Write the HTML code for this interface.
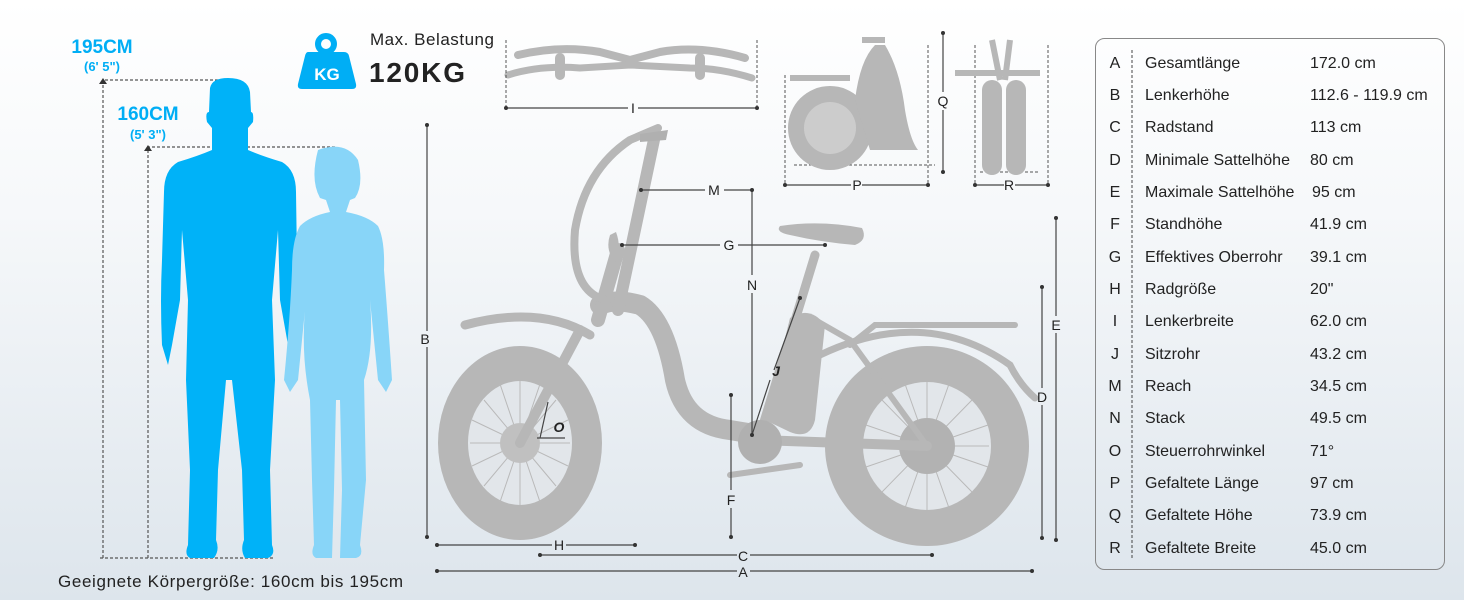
<!DOCTYPE html>
<html><head><meta charset="utf-8"><style>
html,body{margin:0;padding:0}
body{width:1464px;height:600px;overflow:hidden;background:linear-gradient(#ffffff 0%,#f6f8fa 35%,#dde5ec 100%);font-family:"Liberation Sans",sans-serif}
svg{position:absolute;left:0;top:0}
</style></head><body>
<svg width="1464" height="600" viewBox="0 0 1464 600" xmlns="http://www.w3.org/2000/svg" font-family="Liberation Sans, sans-serif">
<g fill="#00aef5" font-weight="bold" text-anchor="middle">
<text x="102" y="53" font-size="19">195CM</text>
<text x="102" y="71" font-size="13">(6' 5")</text>
<text x="148" y="120" font-size="19">160CM</text>
<text x="148" y="139" font-size="13">(5' 3")</text>
</g>
<g stroke="#555" stroke-width="1.2" stroke-dasharray="3,2" fill="none">
<path d="M103 558 V80 H235"/>
<path d="M148 558 V147 H335"/>
<path d="M100 558 H275"/>
</g>
<path d="M99 84 L103 78 L107 84Z M144 151 L148 145 L152 151Z" fill="#333"/>
<g fill="#00b2f8">
<path d="M210 88 Q212 78 228 78 Q248 78 250 92 L251 112 Q254 112 253 122 L248 128 L248 150 Q262 156 282 162 Q296 170 296 192 L297 260 Q299 300 297 345 L292 365 L288 345 L280 300 L278 230 L272 300 L275 380 L270 470 L272 545 Q276 555 268 558 L245 558 Q240 550 244 540 L242 470 L232 380 L226 380 L218 470 L216 540 Q220 550 214 558 L190 558 Q184 555 188 545 L190 470 L186 380 L188 300 L182 230 L180 300 L172 345 L168 365 L162 345 Q160 300 162 260 L164 192 Q164 170 178 162 Q198 156 212 150 L212 128 L207 122 Q205 112 209 112Z"/>
</g>
<g fill="#88d5f8">
<path d="M318 150 Q345 140 358 160 Q364 185 355 198 L350 200 L346 212 Q368 216 378 226 Q385 240 384 270 Q388 320 392 380 L386 392 L378 380 L372 320 L370 300 Q374 350 364 380 L366 480 L360 545 Q364 556 356 558 L340 558 L342 490 L340 400 L336 400 L334 490 L332 558 L316 558 Q310 555 314 545 L312 480 L310 400 Q300 350 306 300 L304 320 L298 380 L290 392 L284 380 Q290 320 292 270 Q292 240 300 226 Q310 216 330 212 L326 200 L320 198 Q310 180 318 150Z"/>
</g>
<text x="58" y="587" font-size="17" fill="#222" textLength="345">Geeignete Körpergröße: 160cm bis 195cm</text>
<circle cx="326" cy="44" r="8" fill="none" stroke="#00aef5" stroke-width="6"/>
<path d="M308 52 H344 Q348 52 349 56 L356 84 Q357 89 352 89 H302 Q297 89 298 84 L305 56 Q306 52 308 52Z" fill="#00aef5"/>
<text x="327" y="80" font-size="17" font-weight="bold" fill="#fff" text-anchor="middle">KG</text>
<text x="370" y="45" font-size="17" fill="#222" textLength="124">Max. Belastung</text>
<text x="369" y="82" font-size="28" font-weight="bold" fill="#222" textLength="96">120KG</text>

<g fill="#b7b7b7">
<ellipse cx="520" cy="443" rx="82" ry="97"/>
<ellipse cx="927" cy="446" rx="102" ry="100"/>
</g>
<g fill="#e2e6ea">
<ellipse cx="520" cy="443" rx="52" ry="62"/>
<ellipse cx="927" cy="446" rx="64" ry="64"/>
</g>
<g stroke="#b9b9b9" stroke-width="1" fill="none">
<path d="M470 443 H570 M520 381 V505 M484 400 L556 486 M556 400 L484 486 M472 420 L568 466 M472 466 L568 420 M500 384 L540 502 M540 384 L500 502"/>
<path d="M865 446 H989 M927 382 V510 M882 400 L972 492 M972 400 L882 492 M866 425 L988 467 M866 467 L988 425 M905 384 L949 508 M949 384 L905 508"/>
</g>
<circle cx="520" cy="443" r="20" fill="#c0c0c0"/>
<circle cx="927" cy="446" r="28" fill="#b2b2b2"/>
<g stroke="#b7b7b7" fill="none" stroke-linecap="round">
<path d="M600 305 Q615 298 640 305 Q665 320 675 380 Q685 425 730 430 L760 435" stroke-width="20"/>
<path d="M618 310 L655 135" stroke-width="12"/>
<path d="M598 320 L618 250" stroke-width="14"/>
<path d="M605 300 Q570 290 575 230 Q585 170 630 140 L658 128" stroke-width="8"/>
<path d="M520 443 L580 330" stroke-width="10"/>
<path d="M760 435 L815 255" stroke-width="9"/>
<path d="M760 440 L927 446" stroke-width="10"/>
<path d="M815 320 L850 340 L927 446" stroke-width="6"/>
<path d="M850 345 L875 325 H1015" stroke-width="6"/>
<path d="M465 325 Q540 305 590 335" stroke-width="9"/>
<path d="M820 355 Q925 305 1010 365 Q1020 385 1035 398" stroke-width="7"/>
<path d="M730 475 L800 465" stroke-width="6"/>
</g>
<path d="M790 318 Q810 305 825 325 L815 420 Q810 440 790 432 L765 420Z" fill="#b7b7b7"/>
<path d="M780 226 Q820 220 862 228 Q868 240 855 245 Q820 242 790 235 Q775 232 780 226Z" fill="#b7b7b7"/>
<ellipse cx="760" cy="442" rx="22" ry="22" fill="#b0b0b0"/>
<path d="M640 134 L668 130 L666 140 L640 142Z" fill="#b0b0b0"/>
<path d="M610 235 Q605 250 615 262 Q622 248 616 232Z" fill="#b7b7b7"/>
<g stroke="#b7b7b7" fill="none" stroke-linecap="round">
<path d="M518 55 Q560 45 600 52 L630 60 L660 52 Q700 45 745 58" stroke-width="8"/>
<path d="M508 75 Q540 65 580 68 L630 65 L690 68 Q720 68 752 78" stroke-width="7"/>
<path d="M560 58 V75 M700 58 V75" stroke-width="10"/>
</g>
<g stroke="#555" stroke-width="1" stroke-dasharray="3,2" fill="none">
<path d="M506 40 V108 M757 40 V108"/>
<path d="M785 75 V185 M928 45 V185 M794 165 H935"/>
<path d="M975 45 V185 M1048 45 V185 M980 172 H1040"/>
</g>
<ellipse cx="830" cy="128" rx="42" ry="42" fill="#b7b7b7"/>
<ellipse cx="830" cy="128" rx="26" ry="26" fill="#ccc"/>
<path d="M855 100 Q860 60 875 45 L885 45 Q900 70 905 110 Q910 140 918 150 L870 150Z" fill="#b7b7b7"/>
<path d="M790 78 H850 M862 40 L885 40" stroke="#b7b7b7" stroke-width="6"/>
<rect x="982" y="80" width="20" height="95" rx="10" fill="#b7b7b7"/>
<rect x="1006" y="80" width="20" height="95" rx="10" fill="#b7b7b7"/>
<path d="M992 40 L1000 80 M1010 40 L1005 80 M955 73 H1040" stroke="#b7b7b7" stroke-width="6"/>

<g stroke="#444" stroke-width="1.2" fill="none">
<path d="M506 108 H628 M638 108 H757"/>
<path d="M785 185 H851 M862 185 H928"/>
<path d="M975 185 H1004 M1015 185 H1048"/>
<path d="M943 33 V92 M943 110 V172"/>
<path d="M427 125 V331 M427 347 V537"/>
<path d="M437 545 H552 M566 545 H635"/>
<path d="M540 555 H737 M750 555 H932"/>
<path d="M437 571 H737 M750 571 H1032"/>
<path d="M1056 218 V316 M1056 333 V540"/>
<path d="M1042 287 V388 M1042 405 V538"/>
<path d="M731 395 V490 M731 508 V537"/>
<path d="M752 190 V275 M752 293 V435"/>
<path d="M641 190 H705 M724 190 H752"/>
<path d="M622 245 H720 M738 245 H825"/>
<path d="M800 298 L774 370 M770 380 L752 435"/>
<path d="M540 438 L548 402 M537 438 H565"/>
</g>
<g fill="#333">
<circle cx="506" cy="108" r="2"/><circle cx="757" cy="108" r="2"/>
<circle cx="785" cy="185" r="2"/><circle cx="928" cy="185" r="2"/>
<circle cx="975" cy="185" r="2"/><circle cx="1048" cy="185" r="2"/>
<circle cx="943" cy="33" r="2"/><circle cx="943" cy="172" r="2"/>
<circle cx="427" cy="125" r="2"/><circle cx="427" cy="537" r="2"/>
<circle cx="437" cy="545" r="2"/><circle cx="635" cy="545" r="2"/>
<circle cx="540" cy="555" r="2"/><circle cx="932" cy="555" r="2"/>
<circle cx="437" cy="571" r="2"/><circle cx="1032" cy="571" r="2"/>
<circle cx="1056" cy="218" r="2"/><circle cx="1056" cy="540" r="2"/>
<circle cx="1042" cy="287" r="2"/><circle cx="1042" cy="538" r="2"/>
<circle cx="731" cy="395" r="2"/><circle cx="731" cy="537" r="2"/>
<circle cx="752" cy="190" r="2"/><circle cx="752" cy="435" r="2"/>
<circle cx="641" cy="190" r="2"/><circle cx="622" cy="245" r="2"/><circle cx="825" cy="245" r="2"/>
<circle cx="800" cy="298" r="2"/>
</g>
<g font-size="14" fill="#222" text-anchor="middle">
<text x="633" y="113">I</text>
<text x="857" y="190">P</text>
<text x="1009" y="190">R</text>
<text x="943" y="106">Q</text>
<text x="425" y="344">B</text>
<text x="559" y="550">H</text>
<text x="743" y="561">C</text>
<text x="743" y="577">A</text>
<text x="1056" y="330">E</text>
<text x="1042" y="402">D</text>
<text x="731" y="505">F</text>
<text x="752" y="290">N</text>
<text x="714" y="195">M</text>
<text x="729" y="250">G</text>
<text x="776" y="376" font-weight="bold" font-style="italic">J</text>
<text x="559" y="432" font-weight="bold" font-style="italic">O</text>
</g>

<rect x="1095.5" y="38.5" width="349" height="531" rx="9" fill="none" stroke="#888" stroke-width="1"/>
<path d="M1132 50 V560" stroke="#444" stroke-width="1" stroke-dasharray="3,2"/>
<g font-size="16" fill="#222">
<g text-anchor="middle">
<text x="1115" y="68">A</text><text x="1115" y="100">B</text><text x="1115" y="132">C</text><text x="1115" y="165">D</text><text x="1115" y="197">E</text><text x="1115" y="229">F</text><text x="1115" y="262">G</text><text x="1115" y="294">H</text><text x="1115" y="326">I</text><text x="1115" y="359">J</text><text x="1115" y="391">M</text><text x="1115" y="423">N</text><text x="1115" y="456">O</text><text x="1115" y="488">P</text><text x="1115" y="520">Q</text><text x="1115" y="553">R</text>
</g>
<text x="1145" y="68">Gesamtlänge</text><text x="1310" y="68">172.0 cm</text>
<text x="1145" y="100">Lenkerhöhe</text><text x="1310" y="100">112.6 - 119.9 cm</text>
<text x="1145" y="132">Radstand</text><text x="1310" y="132">113 cm</text>
<text x="1145" y="165">Minimale Sattelhöhe</text><text x="1310" y="165">80 cm</text>
<text x="1145" y="197">Maximale Sattelhöhe</text><text x="1312" y="197">95 cm</text>
<text x="1145" y="229">Standhöhe</text><text x="1310" y="229">41.9 cm</text>
<text x="1145" y="262">Effektives Oberrohr</text><text x="1310" y="262">39.1 cm</text>
<text x="1145" y="294">Radgröße</text><text x="1310" y="294">20"</text>
<text x="1145" y="326">Lenkerbreite</text><text x="1310" y="326">62.0 cm</text>
<text x="1145" y="359">Sitzrohr</text><text x="1310" y="359">43.2 cm</text>
<text x="1145" y="391">Reach</text><text x="1310" y="391">34.5 cm</text>
<text x="1145" y="423">Stack</text><text x="1310" y="423">49.5 cm</text>
<text x="1145" y="456">Steuerrohrwinkel</text><text x="1310" y="456">71°</text>
<text x="1145" y="488">Gefaltete Länge</text><text x="1310" y="488">97 cm</text>
<text x="1145" y="520">Gefaltete Höhe</text><text x="1310" y="520">73.9 cm</text>
<text x="1145" y="553">Gefaltete Breite</text><text x="1310" y="553">45.0 cm</text>
</g>
</svg>
</body></html>
